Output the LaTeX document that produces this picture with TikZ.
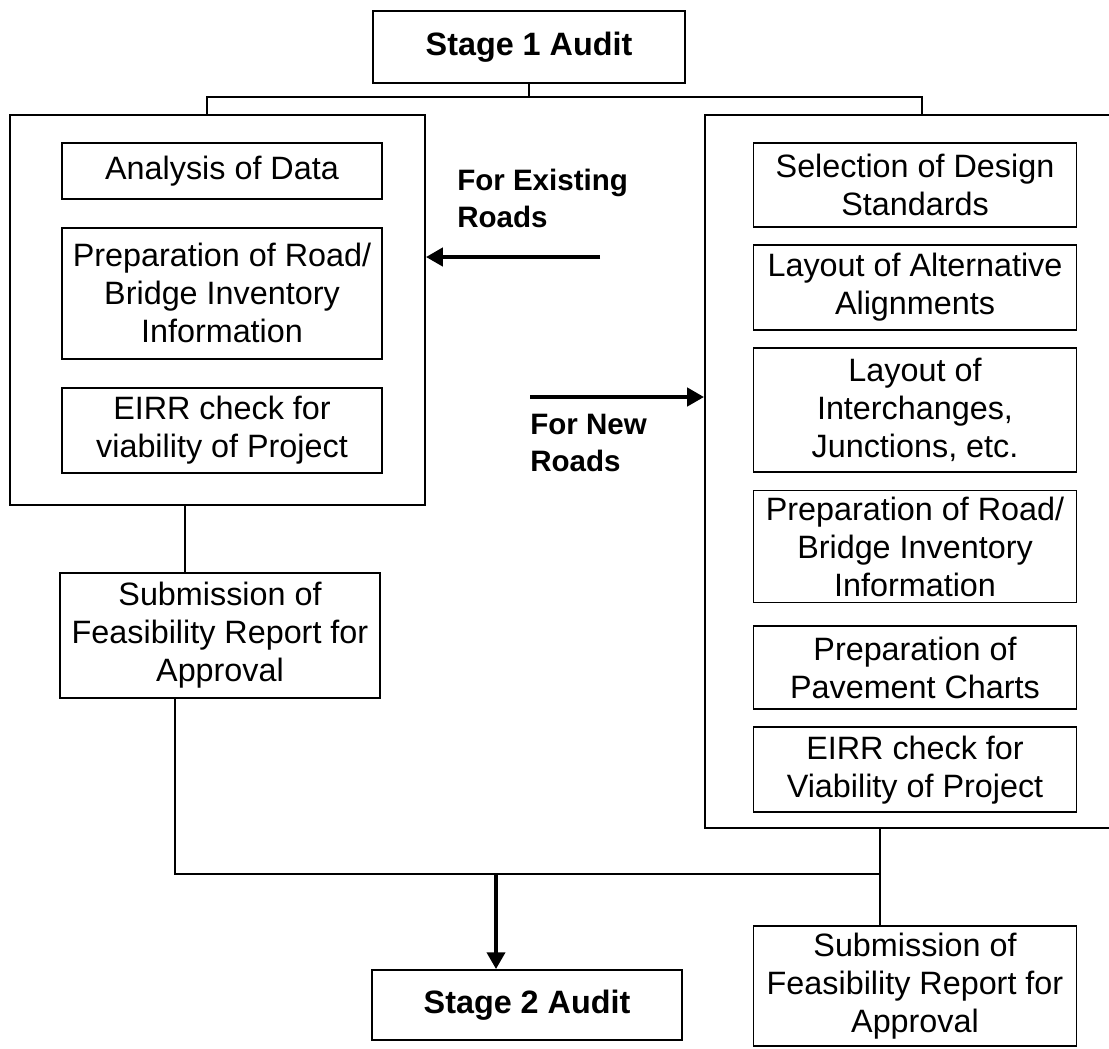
\documentclass[tikz,border=0pt]{standalone}
\usepackage{fontspec}
\setmainfont{Liberation Sans}
\usetikzlibrary{positioning,arrows.meta}

\tikzset{
  txt/.style={font=\fontsize{23}{27}\selectfont, align=center},
  proc/.style={txt, draw, line width=1.3pt, inner xsep=2pt, inner ysep=0pt},
  lproc/.style={proc, minimum width=8cm},
  rproc/.style={proc, minimum width=8.075cm},
  stage/.style={proc, font=\fontsize{23}{27}\selectfont\bfseries},
  group/.style={draw, line width=1.3pt},
  note/.style={font=\fontsize{21}{26}\selectfont\bfseries, align=left, anchor=north west, inner sep=0pt},
  link/.style={line width=1.3pt},
  flow/.style={line width=2.8pt, -{Triangle[length=0.42cm,width=0.45cm]}},
}

\begin{document}
\begin{tikzpicture}[x=0.025cm, y=-0.025cm]
		\useasboundingbox (0,0) rectangle (1109,1048);
		\clip (0,0) rectangle (1109,1048);

		% Define nodes
		\node[stage, minimum width=7.8cm, minimum height=1.8cm] (s1) at (529,47) {Stage 1 Audit};
		\node[group, minimum width=10.375cm, minimum height=9.75cm] (exist) at (217.5,310) {};
		\node[group, minimum width=10.5cm, minimum height=17.825cm] (new) at (915,471.5) {};

		\node[lproc, minimum height=1.4cm, below=0.7cm of exist.north, xshift=0.1125cm] (ana) {Analysis of Data};
		\node[lproc, minimum height=3.275cm, below=0.675cm of ana] (invL) {Preparation of Road/\\Bridge Inventory\\Information};
		\node[lproc, minimum height=2.125cm, below=0.675cm of invL] (eirrL) {EIRR check for\\viability of Project};

		\node[rproc, minimum height=2.1cm, below=0.7cm of new.north] (des) {Selection of Design\\Standards};
		\node[rproc, minimum height=2.125cm, below=0.4cm of des] (alt) {Layout of Alternative\\Alignments};
		\node[rproc, minimum height=3.1cm, below=0.4cm of alt] (junc) {Layout of\\Interchanges,\\Junctions, etc.};
		\node[rproc, minimum height=2.8cm, below=0.425cm of junc] (invR) {Preparation of Road/\\Bridge Inventory\\Information};
		\node[rproc, minimum height=2.075cm, below=0.55cm of invR] (pave) {Preparation of\\Pavement Charts};
		\node[rproc, minimum height=2.125cm, below=0.4cm of pave] (eirrR) {EIRR check for\\Viability of Project};

		\node[lproc, minimum height=3.125cm] (subL) at (220,635.5) {Submission of\\Feasibility Report for\\Approval};
		\node[rproc, minimum height=3cm] (subR) at (915,986) {Submission of\\Feasibility Report for\\Approval};
		\node[stage, minimum width=7.75cm, minimum height=1.75cm] (s2) at (527,1005) {Stage 2 Audit};

		\node[note] (exlab) at (457,169) {For Existing\\Roads};
		\node[note] (nwlab) at (530,414) {For New\\Roads};

		\coordinate (fork) at (525,97);
		\coordinate (tapL) at (207,0);
		\coordinate (tapR) at (922,0);
		\coordinate (exfrom) at (600,257);
		\coordinate (nwfrom) at (530,397);
		\coordinate (downL) at (185,0);
		\coordinate (outL) at (175,0);
		\coordinate (merge) at (880,874);
		\coordinate (feed) at (496,0);

		% Connect the nodes
		\draw[link] (s1.south) -- (s1.south |- fork);
		\draw[link] (exist.north -| tapL) |- (fork) -| (new.north -| tapR);
		\draw[flow] (exfrom) -- (exist.east |- exfrom);
		\draw[flow] (nwfrom) -- (new.west |- nwfrom);
		\draw[link] (exist.south -| downL) -- (subL.north -| downL);
		\draw[link] (subL.south -| outL) |- (merge);
		\draw[link] (new.south -| merge) -- (subR.north -| merge);
		\draw[flow] (merge -| feed) -- (s2.north -| feed);
	\end{tikzpicture}
\end{document}
